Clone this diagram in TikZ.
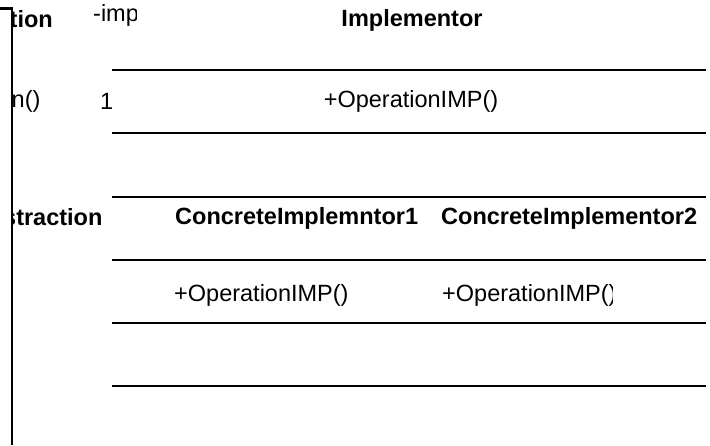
\documentclass[tikz,border=0pt]{standalone}
\usepackage{fontspec}
\setmainfont{Liberation Sans}
\begin{document}
\begin{tikzpicture}[x=1pt,y=-1pt,
  lbl/.style={inner sep=0pt,font=\fontsize{23.5}{28}\selectfont},
  bold/.style={lbl,font=\fontsize{23.5}{28}\selectfont\bfseries},
  rule/.style={line width=2.6pt}]
\useasboundingbox (0,0) rectangle (710,445);
% bracket on the left
\coordinate (bt0) at (0,8.5);
\coordinate (bt1) at (12,8.5);
\coordinate (bb) at (12,445);
\draw[line width=2.6pt] (bt0) -- (bt1) -- (bb);
% compartment rules
\foreach \y/\n in {70/a,133/b,197/c,260/d,323/e,386/f}{
  \coordinate (\n L) at (112,\y);
  \coordinate (\n R) at (706,\y);
  \draw[rule] (\n L) -- (\n R);
}
% left clipped texts
\begin{scope}
\clip (12,0) rectangle (101,445);
\node[bold,anchor=base west] (abs1) at (9.5,27) {tion};
\node[lbl,anchor=base west] (abs2) at (11.5,107) {n()};
\node[bold,anchor=base west] (abs3) at (3,225) {straction};
\end{scope}
\begin{scope}
\clip (80,0) rectangle (136,40);
\node[lbl,anchor=base west] (role) at (93,21) {-imp};
\end{scope}
\node[lbl,anchor=base west] (mult) at (100,109) {1};
\node[bold,anchor=base] (impl) at (412,26) {Implementor};
\node[lbl,anchor=base] (implop) at (411,107) {+OperationIMP()};
\node[bold,anchor=base west] (ci1) at (175,224) {ConcreteImplemntor1};
\node[bold,anchor=base west] (ci2) at (441,224) {ConcreteImplementor2};
\node[lbl,anchor=base west] (ci1op) at (174,301) {+OperationIMP()};
\begin{scope}
\clip (430,270) rectangle (612,320);
\node[lbl,anchor=base west] (ci2op) at (442,301) {+OperationIMP()};
\end{scope}
\end{tikzpicture}
\end{document}
